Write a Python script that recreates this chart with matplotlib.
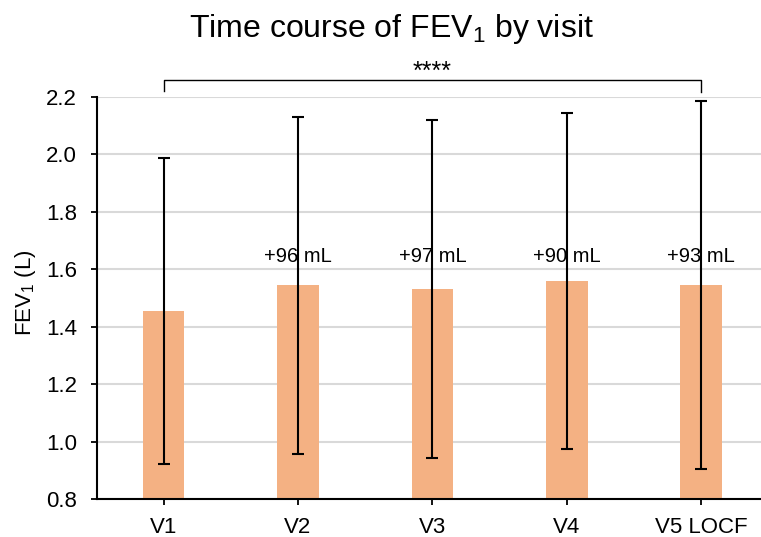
import matplotlib
matplotlib.use("Agg")
import matplotlib.pyplot as plt
import numpy as np

plt.rcParams['font.family'] = ['Liberation Sans', 'DejaVu Sans']
plt.rcParams['mathtext.fontset'] = 'custom'
plt.rcParams['mathtext.rm'] = 'Liberation Sans'

visits = ["V1", "V2", "V3", "V4", "V5 LOCF"]
means = [1.455, 1.545, 1.532, 1.561, 1.546]
sds = [0.533, 0.587, 0.587, 0.585, 0.641]
diff_labels = ["", "+96 mL", "+97 mL", "+90 mL", "+93 mL"]
yticks = [0.8, 1.0, 1.2, 1.4, 1.6, 1.8, 2.0, 2.2]
bar_color = "#F4B183"

fig = plt.figure(figsize=(7.61, 5.37), dpi=100)
ax = fig.add_axes([97/761, 1 - 499.3/537, 1 - 97/761, (499.3 - 97)/537])

x = np.arange(len(visits))
ax.bar(x, means, width=0.31, color=bar_color, zorder=2)
ax.errorbar(x, means, yerr=sds, fmt='none', ecolor='black', elinewidth=1.5,
            capsize=4, capthick=1.5, zorder=3)

for xi, lab in zip(x, diff_labels):
    if lab:
        ax.text(xi, 1.612, lab, ha='center', va='bottom', fontsize=14.5, zorder=4)

ax.set_ylim(0.8, 2.2)
ax.set_xlim(-0.496, 4.446)
ax.set_yticks(yticks)
ax.set_yticklabels([f"{v:.1f}" for v in yticks])
ax.set_xticks(x)
ax.set_xticklabels(visits)
ax.yaxis.grid(True, color='#d9d9d9', linewidth=1.5, zorder=0)
ax.set_axisbelow(True)
for s in ['top', 'right']:
    ax.spines[s].set_visible(False)
for s in ['left', 'bottom']:
    ax.spines[s].set_linewidth(1.5)
ax.tick_params(axis='both', direction='out', length=4.5, width=1.3, labelsize=16)
ax.tick_params(axis='y', pad=10)
ax.tick_params(axis='x', pad=8)

fig.text(25/761, 1 - 293/537, r"FEV$\mathregular{_1}$ (L)", rotation=90,
         ha='center', va='center', fontsize=16)

# significance bracket
ax.plot([0, 0, 4, 4], [2.222, 2.258, 2.258, 2.218], color='black', lw=1.0,
        clip_on=False, zorder=5)
ax.text(2, 2.262, "****", ha='center', va='baseline', fontsize=18, clip_on=False)

fig.text(0.515, 1 - 29.5/537, r"Time course of FEV$\mathregular{_1}$ by visit",
         ha='center', va='center', fontsize=23)

fig.savefig("out.png", dpi=100)
